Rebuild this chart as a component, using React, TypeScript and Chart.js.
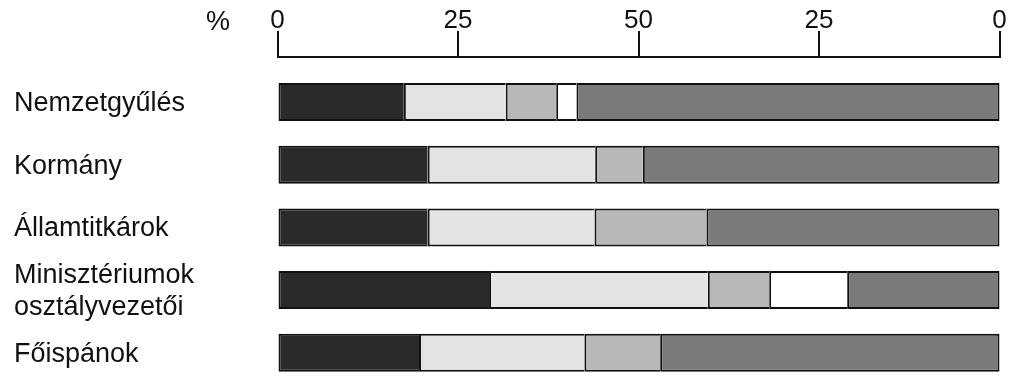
import React, { useEffect, useRef } from 'react';
import { Chart, registerables } from 'chart.js';

Chart.register(...registerables);

// ---- data ----
const categories: (string | string[])[] = [
  'Nemzetgyűlés',
  'Kormány',
  'Államtitkárok',
  ['Minisztériumok', 'osztályvezetői'],
  'Főispánok',
];
const xTickValues = [0, 25, 50, 75, 100];
const xTickLabels = ['0', '25', '50', '25', '0'];
const unitLabel = '%';

const seriesBlack = [17.5, 20.8, 20.8, 29.3, 19.6];
const seriesLight = [14.1, 23.2, 23.1, 30.3, 22.9];
const seriesMid = [7.0, 6.6, 15.5, 8.5, 10.5];
const seriesWhite: (number | null)[] = [2.8, null, null, 10.8, null];
const seriesDark = [58.6, 49.4, 40.6, 21.1, 47.0];

const FONT = '"Liberation Sans", Arial, Helvetica, sans-serif';
const INK = '#111111';

const toPoints = (vals: (number | null)[]) =>
  vals
    .map((v, i) => ({ x: v, y: i }))
    .filter((p) => p.x !== null) as { x: number; y: number }[];

const unitPlugin = {
  id: 'unitLabel',
  afterDraw(chart: any) {
    const ctx = chart.ctx;
    const xs = chart.scales.x;
    ctx.save();
    ctx.font = `27px ${FONT}`;
    ctx.fillStyle = INK;
    ctx.textAlign = 'center';
    ctx.textBaseline = 'alphabetic';
    ctx.fillText(unitLabel, xs.left - 59.5, 29.5);
    ctx.restore();
  },
};

export default function App() {
  const canvasRef = useRef<HTMLCanvasElement | null>(null);

  useEffect(() => {
    if (!canvasRef.current) return;
    const mk = (label: string, vals: (number | null)[], color: string, last = false) => ({
      label,
      data: toPoints(vals),
      backgroundColor: color,
      borderColor: INK,
      borderWidth: { top: 2, bottom: 2, left: 2, right: last ? 2 : 0 },
      borderSkipped: false,
      inflateAmount: 0,
      barThickness: 38,
      clip: false,
    });

    const chart = new Chart(canvasRef.current, {
      type: 'bar',
      data: {
        datasets: [
          mk('s1', seriesBlack, '#2a2a2a'),
          mk('s2', seriesLight, '#e3e3e3'),
          mk('s3', seriesMid, '#b8b8b8'),
          mk('s4', seriesWhite, '#ffffff'),
          mk('s5', seriesDark, '#7a7a7a', true),
        ] as any,
      },
      options: {
        indexAxis: 'y',
        animation: false,
        responsive: true,
        maintainAspectRatio: false,
        layout: { padding: { left: 14, right: 23.5, top: 0, bottom: 0 } },
        plugins: {
          legend: { display: false },
          tooltip: { enabled: false },
        },
        scales: {
          x: {
            type: 'linear',
            position: 'top',
            stacked: true,
            min: 0,
            max: 100,
            afterBuildTicks: (s: any) => {
              s.ticks = xTickValues.map((v) => ({ value: v }));
            },
            afterFit: (s: any) => {
              s.height = 57;
            },
            ticks: {
              callback: (_v: any, i: number) => xTickLabels[i],
              font: { family: FONT, size: 26, lineHeight: 1.2 },
              color: INK,
              padding: -5,
              maxRotation: 0,
              autoSkip: false,
            },
            grid: {
              drawOnChartArea: false,
              drawTicks: true,
              tickLength: 26,
              color: INK,
              lineWidth: 2,
            },
            border: { display: true, color: INK, width: 2 },
          },
          y: {
            type: 'linear',
            reverse: true,
            stacked: true,
            offset: false,
            min: -0.718,
            max: 4.466,
            afterBuildTicks: (s: any) => {
              s.ticks = categories.map((_c, i) => ({ value: i }));
            },
            afterFit: (s: any) => {
              s.width = 263.5;
              s.paddingTop = 0;
              s.paddingBottom = 0;
            },
            ticks: {
              callback: (_v: any, i: number) => categories[i],
              crossAlign: 'far',
              labelOffset: 1.5,
              font: { family: FONT, size: 27, lineHeight: 1.17 },
              color: INK,
              autoSkip: false,
            },
            grid: { display: false, offset: false },
            border: { display: false },
          },
        },
      } as any,
      plugins: [unitPlugin],
    });
    return () => chart.destroy();
  }, []);

  return (
    <div style={{ position: 'fixed', left: 0, top: 0, width: 1023, height: 382, background: '#fff' }}>
      <canvas ref={canvasRef} />
    </div>
  );
}
